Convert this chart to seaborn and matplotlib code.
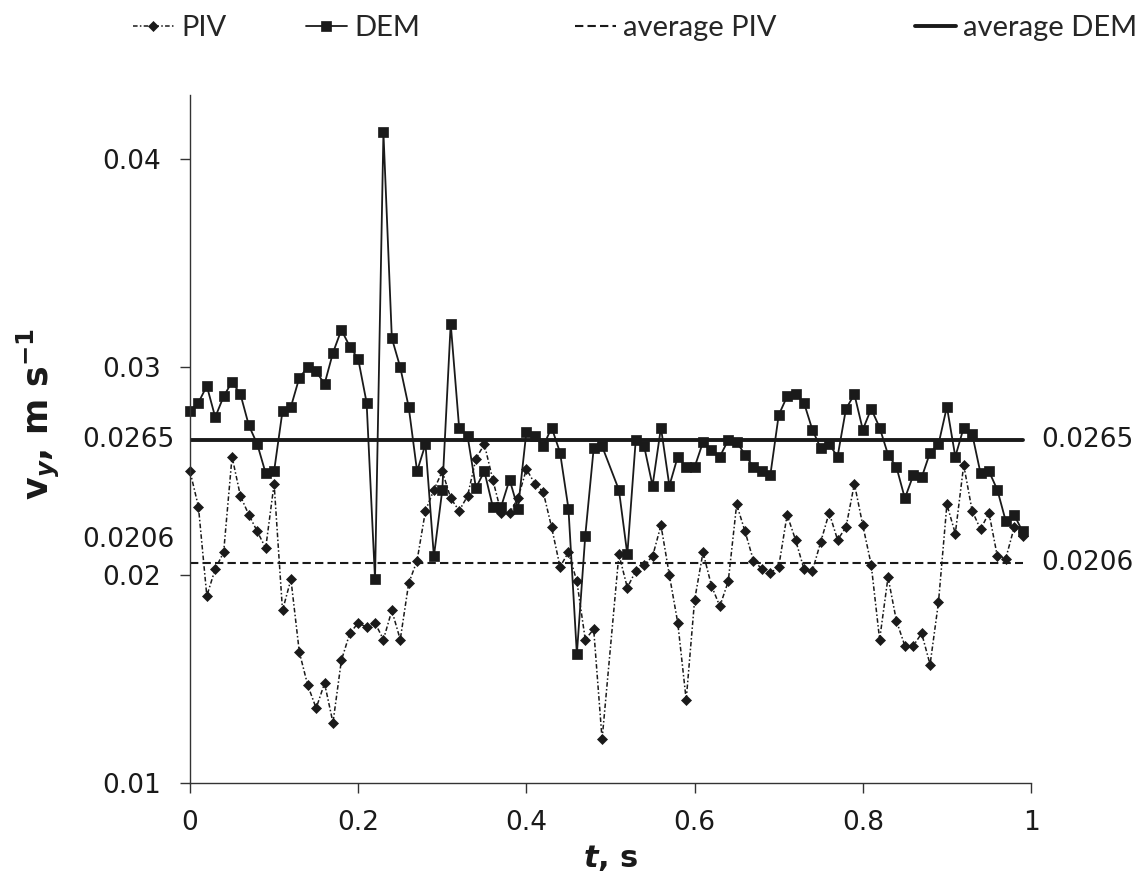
import numpy as np
import matplotlib
matplotlib.use("Agg")
import matplotlib.pyplot as plt
import matplotlib.transforms as mtransforms
import seaborn as sns

# --- data (t = 0.50 is absent in both series) ---
t = [0.00, 0.01, 0.02, 0.03, 0.04, 0.05, 0.06, 0.07, 0.08, 0.09,
     0.10, 0.11, 0.12, 0.13, 0.14, 0.15, 0.16, 0.17, 0.18, 0.19,
     0.20, 0.21, 0.22, 0.23, 0.24, 0.25, 0.26, 0.27, 0.28, 0.29,
     0.30, 0.31, 0.32, 0.33, 0.34, 0.35, 0.36, 0.37, 0.38, 0.39,
     0.40, 0.41, 0.42, 0.43, 0.44, 0.45, 0.46, 0.47, 0.48, 0.49,
     0.51, 0.52, 0.53, 0.54, 0.55, 0.56, 0.57, 0.58, 0.59,
     0.60, 0.61, 0.62, 0.63, 0.64, 0.65, 0.66, 0.67, 0.68, 0.69,
     0.70, 0.71, 0.72, 0.73, 0.74, 0.75, 0.76, 0.77, 0.78, 0.79,
     0.80, 0.81, 0.82, 0.83, 0.84, 0.85, 0.86, 0.87, 0.88, 0.89,
     0.90, 0.91, 0.92, 0.93, 0.94, 0.95, 0.96, 0.97, 0.98, 0.99]

piv = [0.0250, 0.0233, 0.0190, 0.0203, 0.0211, 0.0257, 0.0238, 0.0229, 0.0221, 0.0213,
       0.0244, 0.0183, 0.0198, 0.0163, 0.0147, 0.0136, 0.0148, 0.0129, 0.0159, 0.0172,
       0.0177, 0.0175, 0.0177, 0.0169, 0.0183, 0.0169, 0.0196, 0.0207, 0.0231, 0.0241,
       0.0250, 0.0237, 0.0231, 0.0238, 0.0256, 0.0263, 0.0246, 0.0230, 0.0230, 0.0237,
       0.0251, 0.0244, 0.0240, 0.0223, 0.0204, 0.0211, 0.0197, 0.0169, 0.0174, 0.0121,
       0.0210, 0.0194, 0.0202, 0.0205, 0.0209, 0.0224, 0.0200, 0.0177, 0.0140,
       0.0188, 0.0211, 0.0195, 0.0185, 0.0197, 0.0234, 0.0221, 0.0207, 0.0203, 0.0201,
       0.0204, 0.0229, 0.0217, 0.0203, 0.0202, 0.0216, 0.0230, 0.0217, 0.0223, 0.0244,
       0.0224, 0.0205, 0.0169, 0.0199, 0.0178, 0.0166, 0.0166, 0.0172, 0.0157, 0.0187,
       0.0234, 0.0220, 0.0253, 0.0231, 0.0222, 0.0230, 0.0209, 0.0208, 0.0223, 0.0219]

dem = [0.0279, 0.0283, 0.0291, 0.0276, 0.0286, 0.0293, 0.0287, 0.0272, 0.0263, 0.0249,
       0.0250, 0.0279, 0.0281, 0.0295, 0.0300, 0.0298, 0.0292, 0.0307, 0.0318, 0.0310,
       0.0304, 0.0283, 0.0198, 0.0413, 0.0314, 0.0300, 0.0281, 0.0250, 0.0263, 0.0209,
       0.0241, 0.0321, 0.0271, 0.0267, 0.0242, 0.0250, 0.0233, 0.0233, 0.0246, 0.0232,
       0.0269, 0.0267, 0.0262, 0.0271, 0.0259, 0.0232, 0.0162, 0.0219, 0.0261, 0.0262,
       0.0241, 0.0210, 0.0265, 0.0262, 0.0243, 0.0271, 0.0243, 0.0257, 0.0252,
       0.0252, 0.0264, 0.0260, 0.0257, 0.0265, 0.0264, 0.0258, 0.0252, 0.0250, 0.0248,
       0.0277, 0.0286, 0.0287, 0.0283, 0.0270, 0.0261, 0.0263, 0.0257, 0.0280, 0.0287,
       0.0270, 0.0280, 0.0271, 0.0258, 0.0252, 0.0237, 0.0248, 0.0247, 0.0259, 0.0263,
       0.0281, 0.0257, 0.0271, 0.0268, 0.0249, 0.0250, 0.0241, 0.0226, 0.0229, 0.0221]

avg_piv = 0.0206
avg_dem = 0.0265
avg_labels = ["0.0206", "0.0265"]
yticks = [0.01, 0.02, 0.03, 0.04]
xticks = [0, 0.2, 0.4, 0.6, 0.8, 1]
xtick_labels = ["0", "0.2", "0.4", "0.6", "0.8", "1"]

sns.set_theme(style="ticks")
plt.rcParams['font.family'] = ['DejaVu Sans']
plt.rcParams['mathtext.fontset'] = 'dejavusans'

INK = '#1a1a1a'
TICK_FS = 19

fig = plt.figure(figsize=(11.46, 8.88), dpi=100)
ax = fig.add_axes([190 / 1146, 1 - 783 / 888, 841 / 1146, 688 / 888])

# series
sns.lineplot(x=t, y=piv, ax=ax, color=INK, lw=1.1, linestyle=(0, (3, 1.5, 1, 1.5)),
             marker='D', markersize=5.5, markeredgecolor=INK, markeredgewidth=0.5,
             label='PIV', clip_on=False)
sns.lineplot(x=t, y=dem, ax=ax, color=INK, lw=1.3, linestyle='-',
             marker='s', markersize=7, markeredgecolor=INK, markeredgewidth=0.5,
             label='DEM', clip_on=False)
sns.lineplot(x=[t[0], t[-1]], y=[avg_piv, avg_piv], ax=ax, color=INK, lw=1.5,
             linestyle=(0, (4, 2)), label='average PIV')
sns.lineplot(x=[t[0], t[-1]], y=[avg_dem, avg_dem], ax=ax, color=INK, lw=2.8,
             linestyle='-', label='average DEM')

ax.set_xlim(0, 1)
ax.set_ylim(0.01, 0.0431)
ax.set_xticks(xticks)
ax.set_xticklabels(xtick_labels)
ax.set_yticks(yticks)
ax.set_yticklabels([f"{v:g}" for v in yticks])
ax.tick_params(axis='both', direction='out', length=7.2, width=1, color='#333333',
               labelsize=TICK_FS, labelcolor=INK)
ax.tick_params(axis='y', pad=14)
ax.tick_params(axis='x', pad=12)
sns.despine(ax=ax)
for side in ['left', 'bottom']:
    ax.spines[side].set_color('#333333')
    ax.spines[side].set_linewidth(1.0)

# labels for the average lines
trans = mtransforms.blended_transform_factory(ax.transAxes, ax.transData)
ax.text(1.012, avg_dem, avg_labels[1], transform=trans, ha='left', va='center',
        fontsize=TICK_FS, color=INK)
ax.text(1.012, avg_piv, avg_labels[0], transform=trans, ha='left', va='center',
        fontsize=TICK_FS, color=INK)
ax.text(-0.019, avg_dem, avg_labels[1], transform=trans, ha='right', va='center',
        fontsize=TICK_FS, color=INK)
ax.annotate(avg_labels[0], xy=(-0.019, avg_piv), xycoords=trans,
            xytext=(0, 16), textcoords='offset points',
            ha='right', va='center', fontsize=TICK_FS, color=INK)

ax.set_xlabel(r"$\mathbfit{t}$, s", fontsize=22, fontweight='bold', color=INK)
ax.xaxis.set_label_coords(0.5, -0.087)
ax.set_ylabel(r"$\mathbf{v}_{\mathbfit{y}}$, m s$^{\mathbf{-1}}$", fontsize=25,
              fontweight='bold', color=INK)
ax.yaxis.set_label_coords(-0.152, 0.536)

# legend: one entry per slot, placed like the original
handles, labels = ax.get_legend_handles_labels()
ax.get_legend().remove()
slots = [133, 306, 575, 915]
for h, lab, px in zip(handles, labels, slots):
    fig.legend(handles=[h], labels=[lab], loc='center left',
               bbox_to_anchor=(px / 1146, 1 - 28 / 888), frameon=False,
               borderpad=0, borderaxespad=0, handlelength=1.4, handletextpad=0.25,
               prop={'family': 'Lato', 'size': 21})

fig.savefig("out.png", dpi=100)
